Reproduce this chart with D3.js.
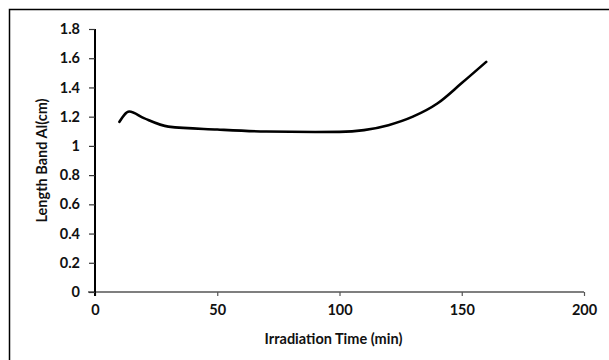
<!DOCTYPE html>
<html>
<head>
<meta charset="utf-8">
<script src="https://cdn.jsdelivr.net/npm/d3@7/dist/d3.min.js"></script>
<style>
  body { margin: 0; background: #fff; }
  svg { display: block; }
</style>
</head>
<body>
<div id="chart"></div>
<script>
// Irradiation time (min) vs length of band Al (cm)
const times = [10, 14, 20, 30, 50, 70, 90, 100, 110, 120, 130, 140, 150, 160];
const lengths = [1.165, 1.235, 1.19, 1.132, 1.112, 1.098, 1.095, 1.096, 1.108, 1.142, 1.2, 1.29, 1.43, 1.575];
const xTicks = [0, 50, 100, 150, 200];
const yTicks = [0, 0.2, 0.4, 0.6, 0.8, 1, 1.2, 1.4, 1.6, 1.8];

const svgWidth = 609, svgHeight = 360;
const margin = { top: 29, right: 25, bottom: 68, left: 95 };
const width = svgWidth - margin.left - margin.right;
const height = svgHeight - margin.top - margin.bottom;
const font = "Lato, 'Open Sans', sans-serif";

const svg = d3.select("#chart").append("svg")
  .attr("width", svgWidth)
  .attr("height", svgHeight);

// outer frame (only top/left visible in the original crop)
svg.append("rect")
  .attr("x", 9.5).attr("y", 9.5)
  .attr("width", svgWidth + 20).attr("height", svgHeight + 20)
  .attr("fill", "none").attr("stroke", "#000").attr("stroke-width", 1.5);

const g = svg.append("g")
  .attr("transform", "translate(" + margin.left + "," + margin.top + ")");

const x = d3.scaleLinear().domain([0, 200]).range([0, width]);
const y = d3.scaleLinear().domain([0, 1.8]).range([height, 0]);

// X axis
const xAxis = g.append("g")
  .attr("transform", "translate(0," + height + ")")
  .call(d3.axisBottom(x).tickValues(xTicks).tickSize(4).tickSizeOuter(0).tickPadding(9));
xAxis.select(".domain").attr("stroke", "#555").attr("stroke-width", 1.6)
  .attr("d", "M-7,0H" + width);
xAxis.selectAll(".tick line").attr("stroke", "#555").attr("stroke-width", 1.2);
xAxis.selectAll("text")
  .style("font-family", font).style("font-size", "14.5px").style("font-weight", "bold")
  .attr("fill", "#111");

// Y axis
const yAxis = g.append("g")
  .call(d3.axisLeft(y).tickValues(yTicks).tickSize(6).tickSizeOuter(0).tickPadding(9)
    .tickFormat(d => d3.format("")(+d.toFixed(1))));
yAxis.select(".domain").attr("stroke", "#000").attr("stroke-width", 2)
  .attr("d", "M0,0V" + (height + 4));
yAxis.selectAll(".tick line").attr("stroke", "#333").attr("stroke-width", 1.2);
yAxis.selectAll("text")
  .style("font-family", font).style("font-size", "14.5px").style("font-weight", "bold")
  .attr("fill", "#111");

// Curve (smoothed like the spreadsheet line)
const data = times.map((t, i) => ({ t: t, v: lengths[i] }));
g.append("path")
  .datum(data)
  .attr("fill", "none")
  .attr("stroke", "#000")
  .attr("stroke-width", 2.6)
  .attr("stroke-linecap", "round")
  .attr("d", d3.line()
    .x(d => x(d.t))
    .y(d => y(d.v))
    .curve(d3.curveMonotoneX));

// Axis titles
g.append("text")
  .attr("x", width / 2 - 6)
  .attr("y", height + 52)
  .attr("text-anchor", "middle")
  .style("font-family", font).style("font-size", "14.5px").style("font-weight", "bold")
  .attr("fill", "#111")
  .text("Irradiation Time (min)");

g.append("text")
  .attr("transform", "rotate(-90)")
  .attr("x", -height / 2)
  .attr("y", -48)
  .attr("text-anchor", "middle")
  .style("font-family", font).style("font-size", "14.5px").style("font-weight", "bold")
  .attr("fill", "#111")
  .text("Length Band Al(cm)");
</script>
</body>
</html>
